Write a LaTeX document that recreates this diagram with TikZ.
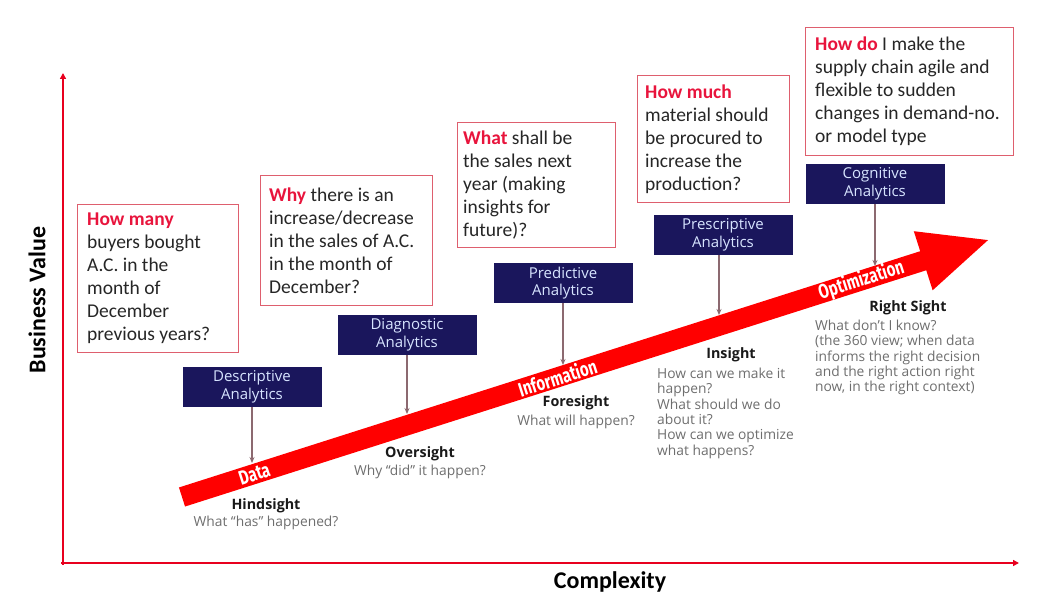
\documentclass[tikz,border=0pt]{standalone}
\usepackage{fontspec}
\setmainfont{Carlito}
\newfontfamily\osans{Open Sans}
\newfontfamily\condfont[FakeStretch=0.75]{Fira Sans}
\usetikzlibrary{arrows.meta}
\definecolor{axisred}{RGB}{232,0,30}
\definecolor{boxred}{RGB}{222,95,110}
\definecolor{keyred}{RGB}{232,20,60}
\definecolor{navy}{RGB}{26,22,92}
\definecolor{navytext}{RGB}{215,228,255}
\definecolor{connc}{RGB}{140,105,112}
\definecolor{graytext}{RGB}{110,110,110}
\definecolor{arrowred}{RGB}{255,0,0}
\begin{document}
\begin{tikzpicture}[x=1pt,y=-1pt,
  qbox/.style={draw=boxred,line width=1.1pt,anchor=north west,inner sep=0pt},
  qtext/.style={anchor=west,align=left,inner sep=0pt,font=\fontsize{19.5}{23}\selectfont,text=black!85},
  abox/.style={fill=navy,text=navytext,minimum width=139pt,minimum height=40pt,align=center,inner sep=0pt,font=\osans\fontsize{15}{17.5}\selectfont},
  connector/.style={draw=connc,line width=1.3pt,-{Stealth[length=6pt,width=5pt]}},
  axisline/.style={draw=axisred,line width=2pt,-{Triangle[length=6pt,width=6pt]}},
  stage/.style={font=\osans\bfseries\fontsize{14.3}{16}\selectfont,text=black!90,inner sep=0pt},
  desc/.style={font=\osans\fontsize{13.8}{15.3}\selectfont,text=graytext,inner sep=0pt,align=left},
  arrowlbl/.style={font=\condfont\bfseries\fontsize{20}{20}\selectfont,text=white,transform shape,inner sep=0pt}
]
\useasboundingbox (0,0) rectangle (1045,615);
% axes
\coordinate (origin) at (63,565);
\coordinate (ytop) at (63,73);
\coordinate (xorigin) at (61,563);
\coordinate (xend) at (1019,563);
\draw[axisline] (origin) -- (ytop);
\draw[axisline] (xorigin) -- (xend);
\node[font=\bfseries\fontsize{24}{24}\selectfont,rotate=90] (yl) at (37,300) {Business Value};
\node[font=\bfseries\fontsize{24}{24}\selectfont] (xl) at (610,582) {Complexity};
% big arrow
\begin{scope}[shift={(182,497)}, rotate=17.68]
  \fill[arrowred] (0,-10) -- (778,-10) -- (778,-31) -- (846,0) -- (778,31) -- (778,10) -- (0,10) -- cycle;
  \node[arrowlbl] (data) at (76,0) {Data};
  \node[arrowlbl] (info) at (394,0) {Information};
  \node[arrowlbl] (opt) at (713,0) {Optimization};
\end{scope}
% question boxes
\node[qbox,minimum width=161pt,minimum height=148pt] (q1) at (77,204) {};
\node[qtext] (q1t) at ([xshift=10pt]q1.west) {{\color{keyred}\bfseries How many}\\buyers bought\\A.C. in the\\month of\\December\\previous years?};
\node[qbox,minimum width=172pt,minimum height=130pt] (q2) at (260,175) {};
\node[qtext] (q2t) at ([xshift=9pt]q2.west) {{\color{keyred}\bfseries Why} there is an\\increase/decrease\\in the sales of A.C.\\in the month of\\December?};
\node[qbox,minimum width=158pt,minimum height=125pt] (q3) at (457,122) {};
\node[qtext] (q3t) at ([xshift=6pt]q3.west) {{\color{keyred}\bfseries What} shall be\\the sales next\\year (making\\insights for\\future)?};
\node[qbox,minimum width=152pt,minimum height=127pt] (q4) at (637,75) {};
\node[qtext] (q4t) at ([xshift=8pt]q4.west) {{\color{keyred}\bfseries How much}\\material should\\be procured to\\increase the\\production?};
\node[qbox,minimum width=208pt,minimum height=128pt] (q5) at (805,27) {};
\node[qtext] (q5t) at ([xshift=10pt]q5.west) {{\color{keyred}\bfseries How do} I make the\\supply chain agile and\\flexible to sudden\\changes in demand-no.\\or model type};
% analytics boxes
\node[abox] (a1) at (252,387) {Descriptive\\Analytics};
\node[abox] (a2) at (407,335) {Diagnostic\\Analytics};
\node[abox] (a3) at (563,283) {Predictive\\Analytics};
\node[abox] (a4) at (723,235) {Prescriptive\\Analytics};
\node[abox] (a5) at (875,184) {Cognitive\\Analytics};
% points on the arrow
\coordinate (p1) at (252,463);
\coordinate (p2) at (407,414);
\coordinate (p3) at (563,365);
\coordinate (p4) at (719,315);
\coordinate (p5) at (875,266);
\draw[connector] (a1.south) -- (p1);
\draw[connector] (a2.south) -- (p2);
\draw[connector] (a3.south) -- (p3);
\draw[connector] (a4.south -| p4) -- (p4);
\draw[connector] (a5.south) -- (p5);
% stages
\node[stage] (s1) at (266,506) {Hindsight};
\node[desc] (d1) at (266,523) {What “has” happened?};
\node[stage] (s2) at (420,454) {Oversight};
\node[desc] (d2) at (420,472) {Why “did” it happen?};
\node[stage] (s3) at (576,403) {Foresight};
\node[desc] (d3) at (576,422) {What will happen?};
\node[stage] (s4) at (731,355) {Insight};
\node[desc,anchor=north west] (d4) at (657,368) {How can we make it\\happen?\\What should we do\\about it?\\How can we optimize\\what happens?};
\node[stage] (s5) at (908,308) {Right Sight};
\node[desc,anchor=north west] (d5) at (815,320) {What don’t I know?\\(the 360 view; when data\\informs the right decision\\and the right action right\\now, in the right context)};
\end{tikzpicture}
\end{document}
